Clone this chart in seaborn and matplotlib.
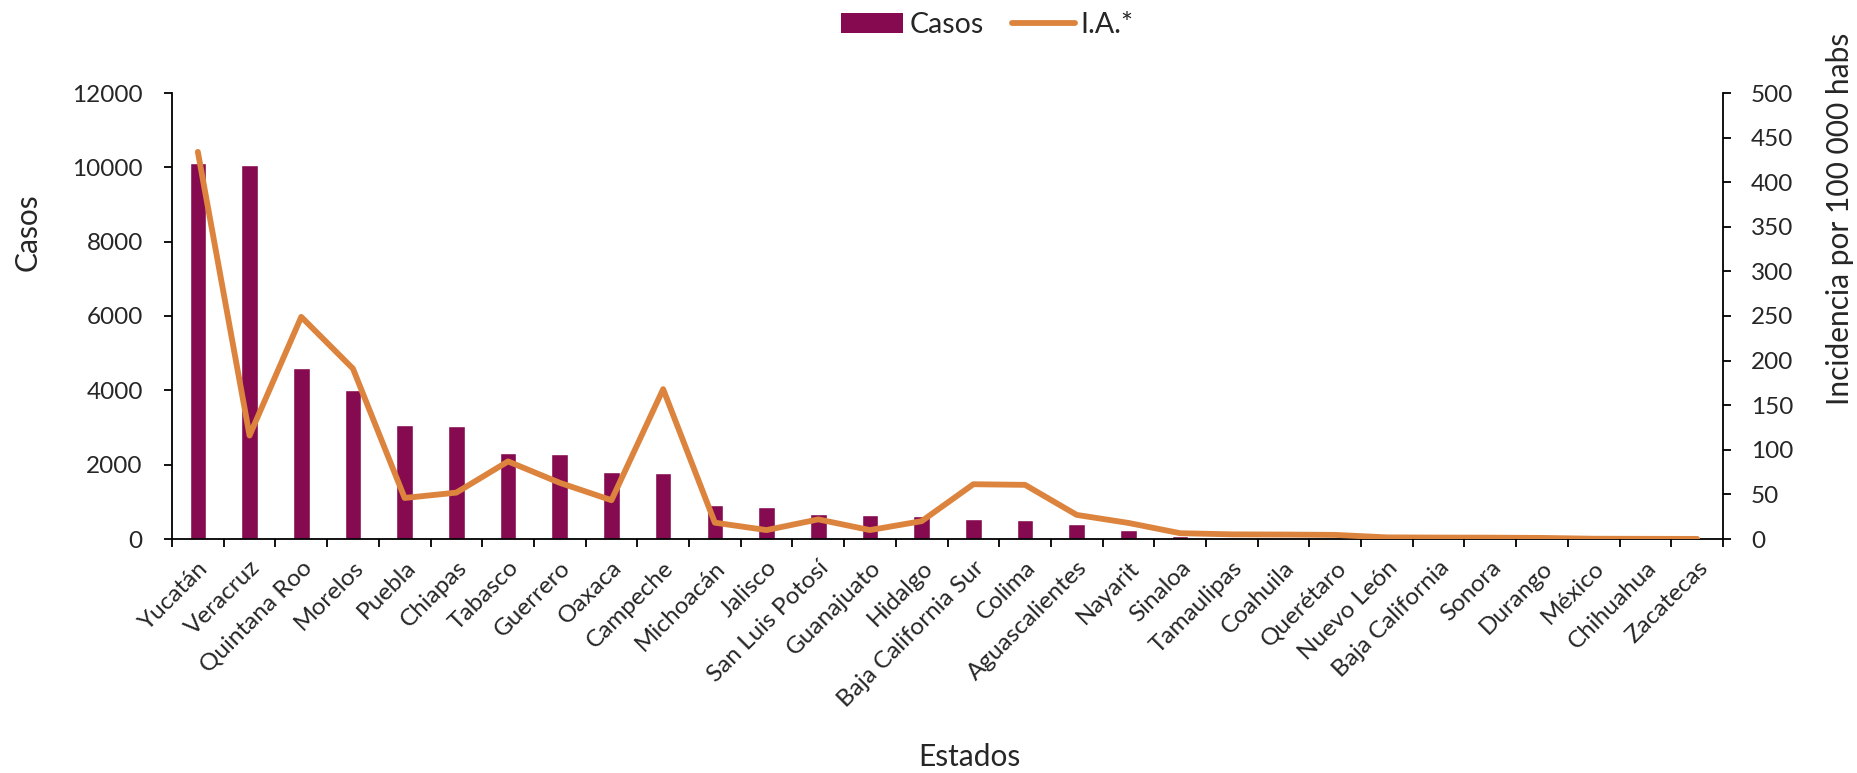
import numpy as np
import pandas as pd
import matplotlib
matplotlib.use("Agg")
import matplotlib.pyplot as plt
import seaborn as sns
from matplotlib.patches import Patch
from matplotlib.lines import Line2D

estados = ["Yucatán", "Veracruz", "Quintana Roo", "Morelos", "Puebla", "Chiapas",
           "Tabasco", "Guerrero", "Oaxaca", "Campeche", "Michoacán", "Jalisco",
           "San Luis Potosí", "Guanajuato", "Hidalgo", "Baja California Sur",
           "Colima", "Aguascalientes", "Nayarit", "Sinaloa", "Tamaulipas",
           "Coahuila", "Querétaro", "Nuevo León", "Baja California", "Sonora",
           "Durango", "México", "Chihuahua", "Zacatecas"]
casos = [10105, 10070, 4600, 4010, 3075, 3030, 2313, 2287, 1803, 1767,
         923, 861, 664, 637, 627, 546, 519, 405, 232, 93,
         40, 30, 25, 30, 20, 15, 8, 5, 3, 1]
ia = [434, 116, 249, 191, 46, 52, 87, 63, 43.5, 168,
      18.3, 10, 22, 10, 20, 61.4, 60.7, 27, 18, 6.5,
      5.2, 5.0, 4.6, 1.8, 1.6, 1.5, 1.2, 0.3, 0.2, 0.1]

bar_color = "#860A4F"
line_color = "#DC843E"

df = pd.DataFrame({"Estado": estados, "Casos": casos, "IA": ia})

sns.set_style("ticks")
plt.rcParams["font.family"] = ["Lato", "DejaVu Sans"]

fig = plt.figure(figsize=(18.57, 7.73), dpi=100)
ax = fig.add_axes([172/1857, 1-539/773, (1723-172)/1857, (539-93)/773])

sns.barplot(data=df, x="Estado", y="Casos", ax=ax, color=bar_color,
            width=0.32, saturation=1, errorbar=None, zorder=2)
ax2 = ax.twinx()
sns.pointplot(data=df, x="Estado", y="IA", ax=ax2, color=line_color,
              marker="", linewidth=4.2, errorbar=None)

n = len(estados)
ax.set_xlim(-0.5, n - 0.5)
ax.set_ylim(0, 12000)
ax.set_yticks(np.arange(0, 12001, 2000))
ax2.set_ylim(0, 500)
ax2.set_yticks(np.arange(0, 501, 50))

ax.set_xticks(np.arange(n))
ax.set_xticklabels(estados, rotation=45, ha="right", va="top",
                   rotation_mode="anchor", fontsize=17.5)
ax.set_xticks(np.arange(n + 1) - 0.5, minor=True)
ax.tick_params(axis="x", which="major", length=0, pad=13)
ax.tick_params(axis="x", which="minor", length=6, width=1.3, color="black", direction="out")
ax.tick_params(axis="y", length=6, width=1.3, color="black", direction="out",
               labelsize=17.5, pad=15)
ax2.tick_params(axis="y", length=6, width=1.3, color="black", direction="out",
                labelsize=17.5, pad=14)

for a in (ax, ax2):
    a.set_xlabel("")
    a.set_ylabel("")
    a.spines["top"].set_visible(False)
    for s in a.spines.values():
        s.set_color("black")
        s.set_linewidth(1.3)
ax.spines["right"].set_visible(False)
ax2.spines["left"].set_visible(False)
ax2.spines["bottom"].set_visible(False)

fig.text(28/1857, 1-232/773, "Casos", rotation=90, ha="center", va="center", fontsize=21.5)
fig.text(1840/1857, 1-219/773, "Incidencia por 100 000 habs", rotation=90,
         ha="center", va="center", fontsize=21.5)
fig.text(969/1857, 1-757/773, "Estados", ha="center", va="center", fontsize=21.5)

handles = [Patch(facecolor=bar_color, edgecolor="none", label="Casos"),
           Line2D([0], [0], color=line_color, lw=4.2, label="I.A.*")]
fig.legend(handles=handles, loc="center", bbox_to_anchor=(987/1857, 1-25/773),
           ncol=2, frameon=False, fontsize=20.5, handlelength=2.2, handleheight=0.7,
           handletextpad=0.2, columnspacing=1.0)

fig.savefig("out.png", dpi=100)
